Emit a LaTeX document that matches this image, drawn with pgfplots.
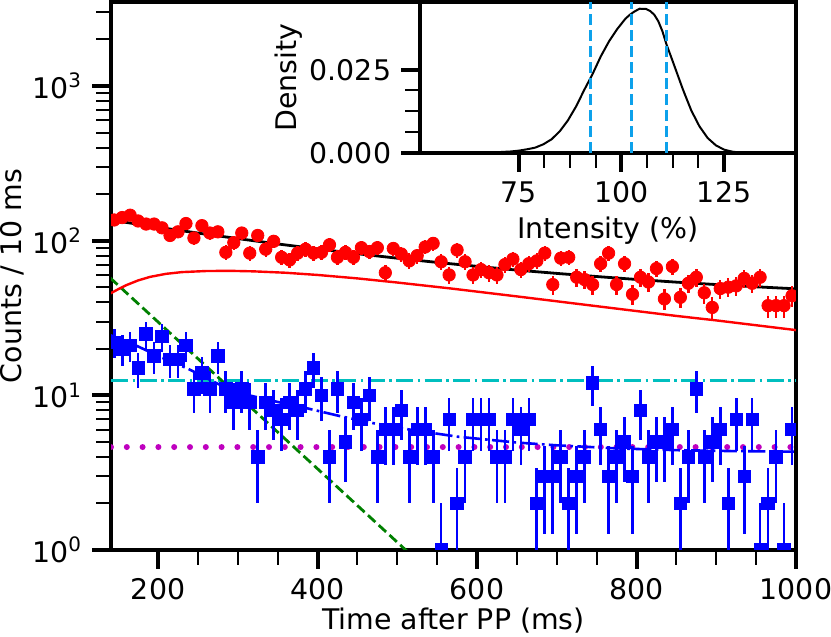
\documentclass[border=0pt]{standalone}
\usepackage{fontspec}
\setmainfont{DejaVu Sans}
\usepackage{pgfplots}
\usepackage{pgfplotstable}
\pgfplotsset{compat=1.18}

\definecolor{mplc}{rgb}{0,0.75,0.75}
\definecolor{mplm}{rgb}{0.75,0,0.75}
\definecolor{mplg}{rgb}{0,0.5,0}
\definecolor{dsb}{rgb}{0.05,0.63,0.92}

\pgfplotstableread{
t n
145 136
155 141
165 146
175 134
185 128
195 128
205 121
215 108
225 114
235 129
245 104
255 125
265 112
275 114
285 84
295 97
305 112
315 83
325 108
335 88
345 99
355 78
365 75
375 83
385 88
395 83
405 84
415 94
425 78
435 84
445 78
455 90
465 85
475 90
485 62
495 89
505 82
515 74
525 80
535 91
545 96
555 73
565 60
575 87
585 73
595 60
605 65
615 62
625 60
635 70
645 76
655 65
665 71
675 74
685 83
695 52
705 77
715 78
725 58
735 56
745 52
755 71
765 83
775 52
785 71
795 45
805 58
815 54
825 66
835 42
845 68
855 43
865 53
875 58
885 46
895 37
905 49
915 50
925 51
935 57
945 53
955 58
965 38
975 38
985 38
995 44
}\reddata

\pgfplotstableread{
t n
145 22
155 20
165 21
175 15
185 25
195 18
205 24
215 17
225 17
235 21
245 11
255 14
265 11
275 18
285 11
295 9
305 11
315 9
325 4
335 9
345 8
355 7
365 9
375 8
385 11
395 15
405 10
415 4
425 11
435 5
445 9
455 7
465 10
475 4
485 6
495 6
505 8
515 4
525 6
535 6
545 4
555 1
565 7
575 2
585 4
595 7
605 7
615 7
625 4
635 4
645 7
655 6
665 7
675 2
685 3
695 3
705 4
715 2
725 3
735 4
745 12
755 6
765 3
775 4
785 5
795 3
805 8
815 4
825 5
835 5
845 6
855 2
865 4
875 11
885 4
895 5
905 6
915 2
925 7
935 3
945 7
955 1
965 2
975 4
985 1
995 6
}\bluedata

\pgfplotstableread{
t v
140 136.0
200 122.0
250 111.9
300 103.1
350 95.2
400 88.4
450 82.3
500 77.0
550 72.3
600 68.2
650 64.5
700 61.4
750 58.6
800 56.1
850 53.9
900 52.0
950 50.3
1000 48.8
}\blackfit

\pgfplotstableread{
t v
140 45.5
150 48.5
160 51.5
175 55.3
190 58.3
210 61.0
230 62.6
260 63.6
290 63.8
320 63.3
360 62.0
400 60.0
450 57.0
500 53.6
565 49.2
650 43.6
750 37.7
850 32.6
900 30.5
1000 26.4
}\redfit

\pgfplotstableread{
t v
140 24.5
174 20.8
205 17.5
237 14.9
265 12.6
295 10.55
340 9.3
387 8.24
430 7.3
471 6.59
520 5.95
576 5.40
650 4.95
700 4.75
775 4.54
850 4.42
920 4.36
1000 4.32
}\bluefit

\pgfplotstableread{
x d
52 0
55 0
60 0.00002
65 0.00008
70 0.00025
73 0.00045
75 0.0007
77 0.0011
79 0.0016
81 0.0026
83 0.0041
85 0.0065
87 0.0098
89 0.0140
91 0.0190
93 0.0237
95 0.0290
97 0.0335
99 0.0372
101 0.0403
102 0.0414
103 0.0423
104 0.0430
104.5 0.0433
105 0.0432
106 0.0432
107 0.0426
108 0.0415
109 0.0395
110 0.0365
111 0.0325
112 0.0292
113 0.0258
115 0.0190
117 0.0128
119 0.0080
121 0.0045
123 0.0023
125 0.0010
127 0.0004
129 0.00012
131 0.00003
135 0
140 0
}\density

\pgfplotsset{
  mplstyle/.style={
    scale only axis,
    tick align=outside,
    tick pos=left,
    major tick length=9.5pt,
    minor tick length=7.5pt,
    every major tick/.append style={line width=2pt, black},
    every minor tick/.append style={line width=1pt, black},
    axis line style={line width=1.65pt},
    /pgf/number format/assume math mode=true,
    /pgf/number format/1000 sep={},
    clip marker paths=true,
  }
}

\begin{document}
\fontsize{14.2}{17}\selectfont
\begin{tikzpicture}
\path[use as bounding box] (0,0) rectangle (415.5pt,318.5pt);
\begin{axis}[
  mplstyle,
  at={(55.5pt,43.5pt)}, anchor=south west,
  width=342.5pt, height=274pt,
  ymode=log,
  xmin=141, xmax=1000, ymin=1, ymax=3490,
  xtick={200,400,600,800,1000},
  minor x tick num=3,
  ytick={1,10,100,1000},
  yticklabels={10\textsuperscript{0},10\textsuperscript{1},10\textsuperscript{2},10\textsuperscript{3}},
  minor ytick={2,3,4,5,6,7,8,9,20,30,40,50,60,70,80,90,200,300,400,500,600,700,800,900,2000,3000},
  xlabel={Time after PP (ms)},
  ylabel={Counts / 10 ms},
  xlabel style={at={(axis description cs:0.5,0)}, anchor=center, yshift=-35.5pt},
  ylabel style={at={(axis description cs:-0.1445,0.5)}, anchor=center},
]
\addplot[mplc, line width=1.4pt, dash pattern=on 8.6pt off 2.15pt on 1.35pt off 2.15pt] coordinates {(141,12.4) (1000,12.4)};
\addplot[mplm, line width=3pt, line cap=round, dash pattern=on 0pt off 7.9pt] coordinates {(141,4.63) (1000,4.63)};
\addplot[mplg, line width=1.4pt, dash pattern=on 5pt off 2.3pt] coordinates {(140,57.4) (330,7.2) (520,0.902)};
\addplot[blue, line width=1.3pt, dash pattern=on 8.6pt off 2.15pt on 1.35pt off 2.15pt] table[x=t,y=v] {\bluefit};
\addplot[red, line width=1.2pt] table[x=t,y=v] {\redfit};
\addplot[black, line width=1.4pt] table[x=t,y=v] {\blackfit};
\addplot[only marks, mark=*, mark size=3.1pt, red, mark options={draw=red, fill=red},
  error bars/.cd, y dir=both, y explicit, error mark=none,
  error bar style={line width=1.2pt, red}]
  table[x=t, y=n, y error expr={sqrt(\thisrow{n})}] {\reddata};
\addplot[only marks, mark=square*, mark size=3.1pt, blue, mark options={draw=blue, fill=blue},
  error bars/.cd, y dir=both, y explicit, error mark=none,
  error bar style={line width=1.35pt, blue}]
  table[x=t, y=n, y error plus expr={sqrt(\thisrow{n})}, y error minus expr={min(sqrt(\thisrow{n}),\thisrow{n}-0.05)}] {\bluedata};
\end{axis}
\begin{axis}[
  mplstyle,
  at={(398pt,317.5pt)}, anchor=north east,
  width=188pt, height=75.5pt,
  axis background/.style={fill=white},
  xmin=51, xmax=142.5, ymin=0, ymax=0.0453,
  xtick={75,100,125}, minor x tick num=3,
  ytick={0,0.025}, minor y tick num=3,
  yticklabel style={/pgf/number format/.cd, fixed, fixed zerofill, precision=3},
  scaled y ticks=false,
  xlabel={Intensity (\%)},
  ylabel={Density},
  xlabel style={at={(axis description cs:0.5,0)}, anchor=center, yshift=-39pt},
  ylabel style={at={(axis description cs:-0.3484,0.5)}, anchor=center},
]
\addplot[black, line width=1pt] table[x=x,y=d] {\density};
\addplot[dsb, line width=1.2pt, dash pattern=on 5.5pt off 2.5pt] coordinates {(92.5,0) (92.5,0.0453)};
\addplot[dsb, line width=1.2pt, dash pattern=on 5.5pt off 2.5pt] coordinates {(102.5,0) (102.5,0.0453)};
\addplot[dsb, line width=1.2pt, dash pattern=on 5.5pt off 2.5pt] coordinates {(111,0) (111,0.0453)};
\end{axis}
\end{tikzpicture}
\end{document}
